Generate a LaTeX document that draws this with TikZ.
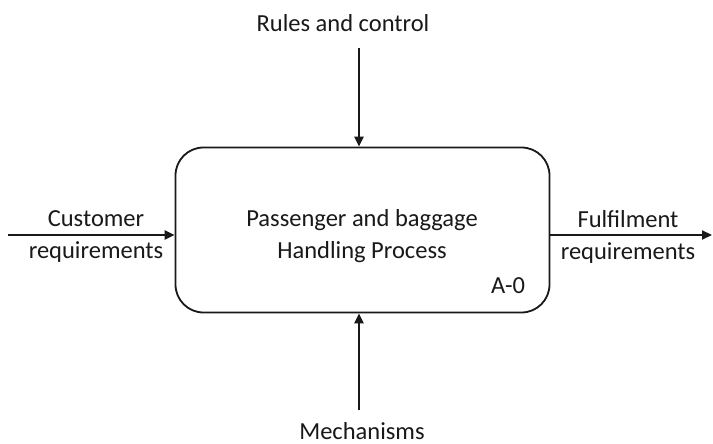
\documentclass[tikz,border=0pt]{standalone}
\usepackage{fontspec}
\setmainfont{Carlito}
\usetikzlibrary{arrows.meta}
\begin{document}
\begin{tikzpicture}[x=1pt,y=-1pt,
  lbl/.style={font=\fontsize{24.5}{32}\selectfont, text=black!90, align=center, inner sep=0pt},
  flow/.style={line width=2.2pt, draw=black!90, -{Triangle[length=10pt,width=9pt]}},
  procbox/.style={draw=black!90, line width=1.8pt, rounded corners=28pt,
    minimum width=374pt, minimum height=165pt, inner sep=0pt}]
  \useasboundingbox (0,0) rectangle (713,444);
  \fill[white] (0,0) rectangle (713,444);

  % activity box
  \node[procbox] (proc) at (362.5,230) {};
  \node[lbl] (ptitle) at (362,236) {Passenger and baggage\\Handling Process};
  \node[lbl, anchor=base] (pid) at (508,293) {A-0};

  % free ends of the ICOM arrows
  \coordinate (ctrl) at (359,48);
  \coordinate (mech) at (359,410);
  \coordinate (inp) at (8,235);
  \coordinate (outp) at (712,235);

  \draw[flow] (ctrl) -- (ctrl |- proc.north);
  \draw[flow] (mech) -- (mech |- proc.south);
  \draw[flow] (inp) -- (inp -| proc.west);
  \draw[flow] (outp -| proc.east) -- (outp);

  % arrow labels
  \node[lbl, anchor=base] (tctrl) at (343,32) {Rules and control};
  \node[lbl, anchor=base] (tmech) at (362,439) {Mechanisms};
  \node[lbl] (tin) at (96,237) {Customer\\requirements};
  \node[lbl] (tout) at (628,237) {Fulfilment\\requirements};
\end{tikzpicture}
\end{document}
